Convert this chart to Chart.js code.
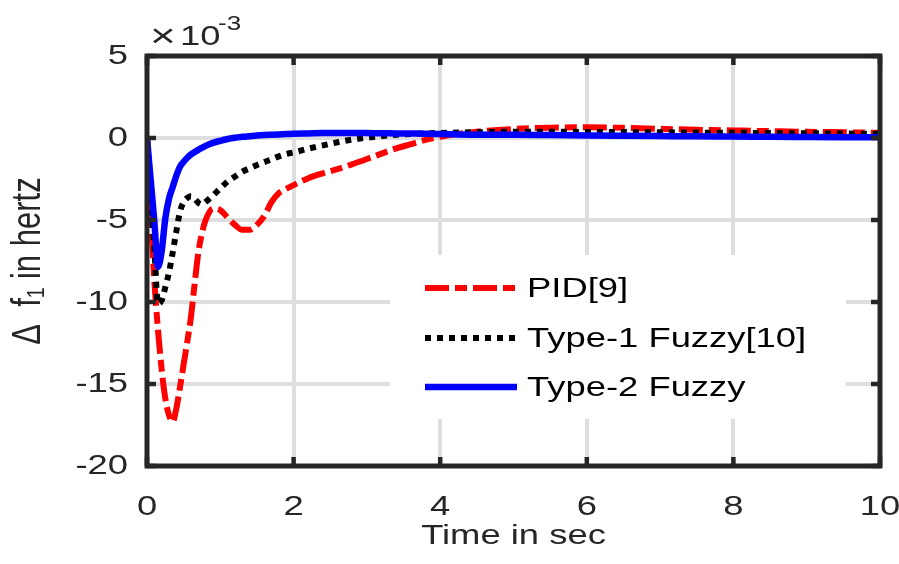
<!DOCTYPE html>
<html>
<head>
<meta charset="utf-8">
<script src="https://cdn.jsdelivr.net/npm/chart.js@4.4.1/dist/chart.umd.min.js"></script>
<style>
  html, body { margin: 0; padding: 0; background: #ffffff; }
  #wrap { width: 899px; height: 564px; }
</style>
</head>
<body>
<div id="wrap"><canvas id="c" width="899" height="564"></canvas></div>
<script>
// ---- Data (values in units of 1e-3 Hz) ----
const time = [0,0.05,0.1,0.15,0.2,0.25,0.3,0.35,0.4,0.45,0.5,0.55,0.6,0.65,0.7,0.75,0.8,0.9,1.0,1.1,1.2,1.3,1.4,1.5,1.6,1.7,1.8,1.9,2.0,2.2,2.4,2.6,2.8,3.0,3.2,3.4,3.6,3.8,4.0,4.5,5,5.5,6,6.5,7,7.5,8,8.5,9,9.5,10];

const pid = [0,-4.5,-8.7,-11.7,-14.1,-15.9,-16.9,-17.3,-16.5,-15.2,-13.8,-12.4,-10.9,-8.9,-7.0,-5.8,-5.0,-4.3,-4.4,-4.85,-5.3,-5.6,-5.6,-5.3,-4.75,-3.9,-3.35,-3.1,-2.87,-2.45,-2.15,-1.9,-1.6,-1.28,-0.95,-0.63,-0.38,-0.12,0.08,0.38,0.55,0.63,0.65,0.62,0.56,0.5,0.46,0.42,0.38,0.35,0.32];

const type1 = [0,-3.3,-6.7,-10.1,-9.9,-9.1,-8.2,-7.0,-5.7,-4.5,-3.9,-3.65,-3.55,-3.7,-3.95,-4.05,-3.9,-3.5,-3.07,-2.65,-2.35,-2.05,-1.85,-1.65,-1.47,-1.3,-1.12,-0.97,-0.88,-0.65,-0.45,-0.26,-0.1,0.02,0.12,0.2,0.25,0.28,0.31,0.35,0.38,0.38,0.37,0.36,0.35,0.33,0.32,0.3,0.29,0.27,0.26];

const type2 = [0,-2.55,-5.1,-7.85,-6.9,-4.9,-3.7,-3.0,-2.3,-1.75,-1.45,-1.2,-1.0,-0.85,-0.72,-0.6,-0.48,-0.3,-0.17,-0.06,0.02,0.07,0.11,0.15,0.18,0.2,0.22,0.24,0.26,0.28,0.3,0.31,0.31,0.3,0.29,0.28,0.27,0.26,0.24,0.2,0.2,0.18,0.16,0.14,0.12,0.1,0.09,0.07,0.06,0.05,0.04];

const seriesLabels = ['PID[9]', 'Type-1 Fuzzy[10]', 'Type-2 Fuzzy'];
const xTicks = [0, 2, 4, 6, 8, 10];
const yTicks = [-20, -15, -10, -5, 0, 5];
const xTitle = 'Time in sec';
const yTitle = 'Δ  f₁ in hertz';

// ---- Styles ----
const FONT = "'Liberation Sans', Arial, sans-serif";
const TXT = '#262626';
const SX = 1.3; // horizontal glyph stretch of the reference rendering
Chart.defaults.font.family = FONT;
Chart.defaults.color = TXT;

const styles = [
  { color: '#ff0000', dash: [24, 6, 12, 6], width: 6 },
  { color: '#000000', dash: [6, 6], width: 6 },
  { color: '#0000ff', dash: [], width: 6.5 }
];
const seriesData = [pid, type1, type2];

const datasets = seriesData.map((vals, k) => ({
  label: seriesLabels[k],
  data: time.map((t, i) => ({ x: t, y: vals[i] })),
  borderColor: styles[k].color,
  borderDash: styles[k].dash,
  borderWidth: styles[k].width,
  borderCapStyle: 'butt',
  borderJoinStyle: 'round',
  pointRadius: 0,
  cubicInterpolationMode: 'monotone',
  fill: false,
  order: 2 - k
}));

// Text is drawn wider in device space, anchored at its alignment point
const canvas = document.getElementById('c');
const ctx2d = canvas.getContext('2d');
const protoFill = CanvasRenderingContext2D.prototype.fillText;
ctx2d.fillText = function (t, x, y, mw) {
  const m = this.getTransform();
  const p = m.transformPoint(new DOMPoint(x, y));
  this.save();
  this.setTransform(new DOMMatrix().translate(p.x, p.y).scale(SX, 1).translate(-p.x, -p.y).multiply(m));
  if (mw === undefined) protoFill.call(this, t, x, y);
  else protoFill.call(this, t, x, y, mw);
  this.restore();
};

const decorPlugin = {
  id: 'decor',
  afterDatasetsDraw(c) {
    const ctx = c.ctx;
    ctx.save();
    // legend box (opaque, covers grid)
    ctx.fillStyle = '#ffffff';
    ctx.fillRect(390, 255, 456, 164);
    const rows = [288, 338, 387];
    for (let k = 0; k < 3; k++) {
      ctx.beginPath();
      ctx.strokeStyle = styles[k].color;
      ctx.lineWidth = styles[k].width;
      ctx.lineCap = 'butt';
      ctx.setLineDash(styles[k].dash);
      ctx.moveTo(425, rows[k]);
      ctx.lineTo(517, rows[k]);
      ctx.stroke();
    }
    ctx.setLineDash([]);
    ctx.fillStyle = '#000000';
    ctx.font = '28px ' + FONT;
    ctx.textAlign = 'left';
    ctx.textBaseline = 'middle';
    for (let k = 0; k < 3; k++) {
      ctx.fillText(seriesLabels[k], 527, rows[k] + 1);
    }
    ctx.restore();
  },
  afterDraw(c) {
    const ctx = c.ctx;
    const a = c.chartArea;
    const xs = c.scales.x, ys = c.scales.y;
    ctx.save();
    ctx.strokeStyle = TXT;
    ctx.lineWidth = 4.5;
    ctx.setLineDash([]);
    // inward ticks
    ctx.beginPath();
    xTicks.forEach(v => {
      const px = xs.getPixelForValue(v);
      ctx.moveTo(px, a.bottom); ctx.lineTo(px, a.bottom - 9);
      ctx.moveTo(px, a.top); ctx.lineTo(px, a.top + 9);
    });
    yTicks.forEach(v => {
      const py = ys.getPixelForValue(v);
      ctx.moveTo(a.left, py); ctx.lineTo(a.left + 9, py);
      ctx.moveTo(a.right, py); ctx.lineTo(a.right - 9, py);
    });
    ctx.stroke();
    // box
    ctx.lineWidth = 5;
    ctx.strokeRect(a.left, a.top, a.right - a.left, a.bottom - a.top);
    // exponent label
    ctx.fillStyle = TXT;
    ctx.textAlign = 'left';
    ctx.textBaseline = 'alphabetic';
    ctx.font = '34px ' + FONT;
    ctx.fillText('×', 150, 47);
    ctx.font = '28px ' + FONT;
    ctx.fillText('10', 180, 45);
    ctx.font = '20px ' + FONT;
    ctx.fillText('-3', 218, 30);
    ctx.restore();
  }
};

new Chart(canvas, {
  type: 'line',
  data: { datasets },
  plugins: [decorPlugin],
  options: {
    responsive: false,
    animation: false,
    devicePixelRatio: 1,
    layout: { padding: { top: 56, right: 19, left: 0, bottom: 0 } },
    plugins: { legend: { display: false }, tooltip: { enabled: false } },
    scales: {
      x: {
        type: 'linear',
        min: 0, max: 10,
        afterBuildTicks(s) { s.ticks = xTicks.map(v => ({ value: v })); },
        afterFit(s) { s.height = 98; s.paddingLeft = 0; s.paddingRight = 0; },
        grid: { color: '#dedede', lineWidth: 4, drawTicks: false },
        border: { display: false },
        ticks: { font: { size: 28 }, color: TXT, padding: 24, maxRotation: 0, autoSkip: false,
                 callback: v => String(v) },
        title: { display: true, text: xTitle, font: { size: 28 }, color: TXT, padding: { top: 0, bottom: 11 } }
      },
      y: {
        type: 'linear',
        min: -20, max: 5,
        afterBuildTicks(s) { s.ticks = yTicks.map(v => ({ value: v })); },
        afterFit(s) { s.width = 147; s.paddingTop = 0; s.paddingBottom = 0; },
        grid: { color: '#dedede', lineWidth: 4, drawTicks: false },
        border: { display: false },
        ticks: { font: { size: 28 }, color: TXT, padding: 19, autoSkip: false,
                 callback: v => String(v) },
        title: { display: true, text: yTitle, font: { size: 31 }, color: TXT, padding: { top: 10, bottom: 0 } }
      }
    }
  }
});
</script>
</body>
</html>
